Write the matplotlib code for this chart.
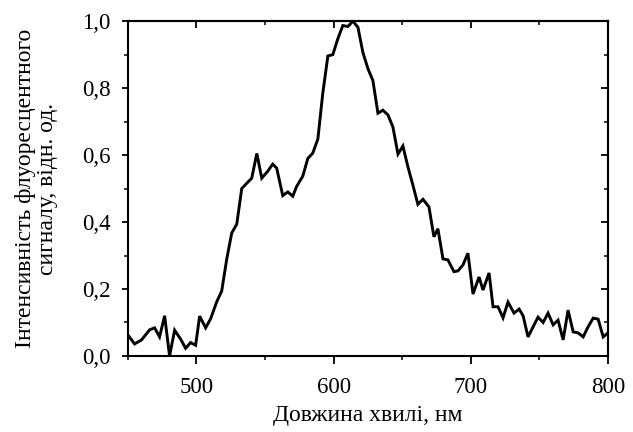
import matplotlib
matplotlib.use("Agg")
import matplotlib.pyplot as plt
from matplotlib.ticker import MultipleLocator, FuncFormatter

wavelength = [450.0, 454.9, 460.0, 465.8, 469.5, 473.1, 476.8, 480.4, 484.1, 488.5,
              492.1, 495.7, 499.4, 502.3, 506.7, 510.4, 514.8, 518.4, 522.1, 525.7,
              529.4, 533.0, 536.7, 540.3, 544.0, 547.6, 552.0, 555.6, 558.5, 562.9,
              566.6, 570.2, 573.1, 577.5, 581.2, 584.8, 588.5, 592.1, 595.8, 599.4,
              603.1, 606.7, 610.4, 614.0, 617.7, 621.3, 625.0, 628.6, 632.3, 635.9,
              639.6, 643.2, 646.9, 650.5, 654.2, 657.8, 661.4, 665.1, 669.5, 673.1,
              676.0, 679.7, 683.3, 687.7, 690.6, 694.3, 697.9, 701.6, 706.0, 708.9,
              713.3, 716.2, 719.8, 723.5, 727.1, 731.5, 735.2, 738.1, 741.7, 745.4,
              749.0, 752.7, 756.3, 760.0, 763.6, 767.3, 770.9, 774.6, 778.2, 781.9,
              785.5, 789.2, 792.8, 796.5, 800.0]
intensity = [0.063, 0.036, 0.048, 0.078, 0.084, 0.057, 0.120, 0.000, 0.077, 0.050,
             0.023, 0.040, 0.032, 0.119, 0.084, 0.112, 0.162, 0.194, 0.290, 0.367,
             0.394, 0.500, 0.516, 0.531, 0.605, 0.531, 0.552, 0.573, 0.561, 0.479,
             0.490, 0.477, 0.507, 0.537, 0.590, 0.606, 0.648, 0.785, 0.896, 0.900,
             0.948, 0.987, 0.984, 1.000, 0.982, 0.907, 0.858, 0.823, 0.725, 0.734,
             0.720, 0.684, 0.603, 0.627, 0.564, 0.510, 0.453, 0.468, 0.445, 0.356,
             0.380, 0.290, 0.287, 0.252, 0.254, 0.272, 0.307, 0.185, 0.236, 0.197,
             0.248, 0.147, 0.147, 0.114, 0.161, 0.128, 0.140, 0.120, 0.057, 0.087,
             0.116, 0.100, 0.128, 0.093, 0.107, 0.048, 0.137, 0.072, 0.069, 0.057,
             0.087, 0.113, 0.110, 0.057, 0.069]

x_label = "Довжина хвилі, нм"
y_label = "Інтенсивність флуоресцентного\nсигналу, відн. од."

plt.rcParams['font.family'] = ['Liberation Serif', 'DejaVu Serif']

fig = plt.figure(figsize=(6.33, 4.32), dpi=100)
ax = fig.add_axes([0.202, 0.176, 0.7585, 0.775])
ax.plot(wavelength, intensity, color='black', lw=2.1, solid_joinstyle='miter')

ax.set_xlim(450, 800)
ax.set_ylim(0, 1.0)
ax.xaxis.set_major_locator(MultipleLocator(100))
ax.xaxis.set_minor_locator(MultipleLocator(50))
ax.yaxis.set_major_locator(MultipleLocator(0.2))
ax.yaxis.set_minor_locator(MultipleLocator(0.1))
ax.xaxis.set_major_formatter(FuncFormatter(lambda v, p: "" if v < 500 else f"{v:.0f}"))
ax.yaxis.set_major_formatter(FuncFormatter(lambda v, p: f"{v:.1f}".replace('.', ',')))

for s in ax.spines.values():
    s.set_linewidth(1.5)

ax.tick_params(axis='x', which='major', direction='out', length=5.5, width=1.3,
               labelsize=16.5, pad=10)
ax.tick_params(axis='y', which='major', direction='out', length=4.5, width=1.3,
               labelsize=16.5, pad=8)
ax.tick_params(axis='both', which='minor', direction='out', length=3, width=1.1)
# inward ticks on top and right
ax2 = ax.secondary_xaxis('top')
ax2.xaxis.set_major_locator(MultipleLocator(100))
ax2.xaxis.set_minor_locator(MultipleLocator(50))
ax2.tick_params(which='major', direction='in', length=5, width=1.3, labeltop=False)
ax2.tick_params(which='minor', direction='in', length=3, width=1.1)
ax2.spines['top'].set_linewidth(1.5)
ax3 = ax.secondary_yaxis('right')
ax3.yaxis.set_major_locator(MultipleLocator(0.2))
ax3.yaxis.set_minor_locator(MultipleLocator(0.1))
ax3.tick_params(which='major', direction='in', length=5, width=1.3, labelright=False)
ax3.tick_params(which='minor', direction='in', length=3, width=1.1)
ax3.spines['right'].set_linewidth(1.5)

ax.set_xlabel(x_label, fontsize=17, labelpad=5)
ax.set_ylabel(y_label, fontsize=17, labelpad=17, linespacing=1.05)

fig.savefig("out.png", dpi=100)
